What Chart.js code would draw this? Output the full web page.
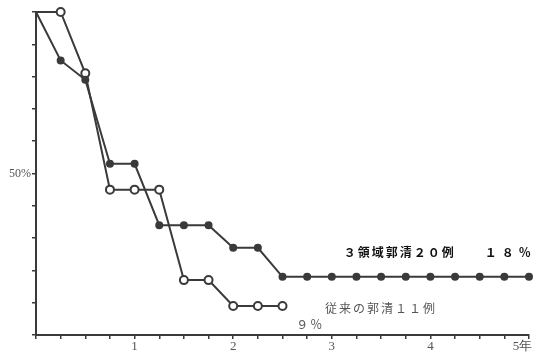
<!DOCTYPE html>
<html>
<head>
<meta charset="utf-8">
<script src="https://cdn.jsdelivr.net/npm/chart.js@4/dist/chart.umd.min.js"></script>
<style>
    html, body { margin: 0; padding: 0; background: #ffffff; }
    #wrap { width: 535px; height: 357px; position: relative; }
</style>
</head>
<body>
<div id="wrap"><canvas id="survivalChart" width="535" height="357"></canvas></div>
<script>
// 3-field dissection group (filled markers)
var extYears = [0, 0.25, 0.5, 0.75, 1, 1.25, 1.5, 1.75, 2, 2.25, 2.5, 2.75, 3, 3.25, 3.5, 3.75, 4, 4.25, 4.5, 4.75, 5];
var extSurvival = [100, 85, 79, 53, 53, 34, 34, 34, 27, 27, 18, 18, 18, 18, 18, 18, 18, 18, 18, 18, 18];

// conventional dissection group (open markers)
var convYears = [0, 0.25, 0.5, 0.75, 1, 1.25, 1.5, 1.75, 2, 2.25, 2.5];
var convSurvival = [100, 100, 81, 45, 45, 45, 17, 17, 9, 9, 9];

var xTickLabels = { 1: '1', 2: '2', 3: '3', 4: '4', 5: '5年\u3000' };
var yTickLabels = { 50: '50%' };

// text notes: [text, year, percent, bold, letter spacing]
var notes = [
    ['３領域郭清２０例', 3.12, 25.5, true, 2],
    ['１８％', 4.55, 25.5, true, 5],
    ['従来の郭清１１例', 2.93, 8.2, false, 2],
    ['９％', 2.64, 3.2, false, 2]
];

function toPoints(xs, ys) {
    var pts = [];
    for (var i = 0; i < xs.length; i++) pts.push({ x: xs[i], y: ys[i] });
    return pts;
}

var ink = '#3a3a3a';

var notesPlugin = {
    id: 'notes',
    afterDatasetsDraw: function(chart) {
        var ctx = chart.ctx;
        var xs = chart.scales.x;
        var ys = chart.scales.y;
        ctx.save();
        ctx.textBaseline = 'middle';
        ctx.textAlign = 'left';
        notes.forEach(function(n) {
            ctx.font = (n[3] ? 'bold ' : '') + '12px "Noto Sans CJK JP"';
            ctx.fillStyle = n[3] ? '#111111' : '#555555';
            ctx.letterSpacing = n[4] + 'px';
            ctx.fillText(n[0], xs.getPixelForValue(n[1]), ys.getPixelForValue(n[2]));
        });
        ctx.restore();
    }
};

new Chart(document.getElementById('survivalChart').getContext('2d'), {
    type: 'line',
    data: {
        datasets: [{
            label: '3領域郭清20例',
            data: toPoints(extYears, extSurvival),
            borderColor: ink,
            borderWidth: 2,
            backgroundColor: ink,
            pointBackgroundColor: ink,
            pointBorderColor: ink,
            pointRadius: extYears.map(function(v, i) { return i === 0 ? 0 : 3; }),
            tension: 0,
            clip: false
        }, {
            label: '従来の郭清11例',
            data: toPoints(convYears, convSurvival),
            borderColor: ink,
            borderWidth: 2,
            pointBackgroundColor: '#ffffff',
            pointBorderColor: ink,
            pointBorderWidth: 2,
            pointRadius: convYears.map(function(v, i) { return i === 0 ? 0 : 4; }),
            tension: 0,
            clip: false
        }]
    },
    options: {
        responsive: false,
        animation: false,
        layout: { padding: { top: 12, right: 6, left: 0, bottom: 0 } },
        plugins: { legend: { display: false }, tooltip: { enabled: false } },
        scales: {
            x: {
                type: 'linear',
                min: 0,
                max: 5,
                afterFit: function(scale) {
                    scale.height = 22;
                    scale.paddingRight = 0;
                },
                border: { color: ink, width: 2 },
                grid: { drawOnChartArea: false, drawTicks: true, tickLength: 4, color: ink, lineWidth: 1.5 },
                ticks: {
                    stepSize: 0.25,
                    autoSkip: false,
                    maxRotation: 0,
                    padding: 0,
                    color: '#555555',
                    font: { family: 'Liberation Serif', size: 13 },
                    callback: function(v) { return xTickLabels[v] || ''; }
                }
            },
            y: {
                min: 0,
                max: 100,
                afterFit: function(scale) { scale.width = 36; },
                border: { color: ink, width: 2 },
                grid: { drawOnChartArea: false, drawTicks: true, tickLength: 4, color: ink, lineWidth: 1.5 },
                ticks: {
                    stepSize: 10,
                    padding: 1,
                    color: '#555555',
                    font: { family: 'Liberation Serif', size: 12 },
                    callback: function(v) { return yTickLabels[v] || ''; }
                }
            }
        }
    },
    plugins: [notesPlugin]
});
</script>
</body>
</html>
